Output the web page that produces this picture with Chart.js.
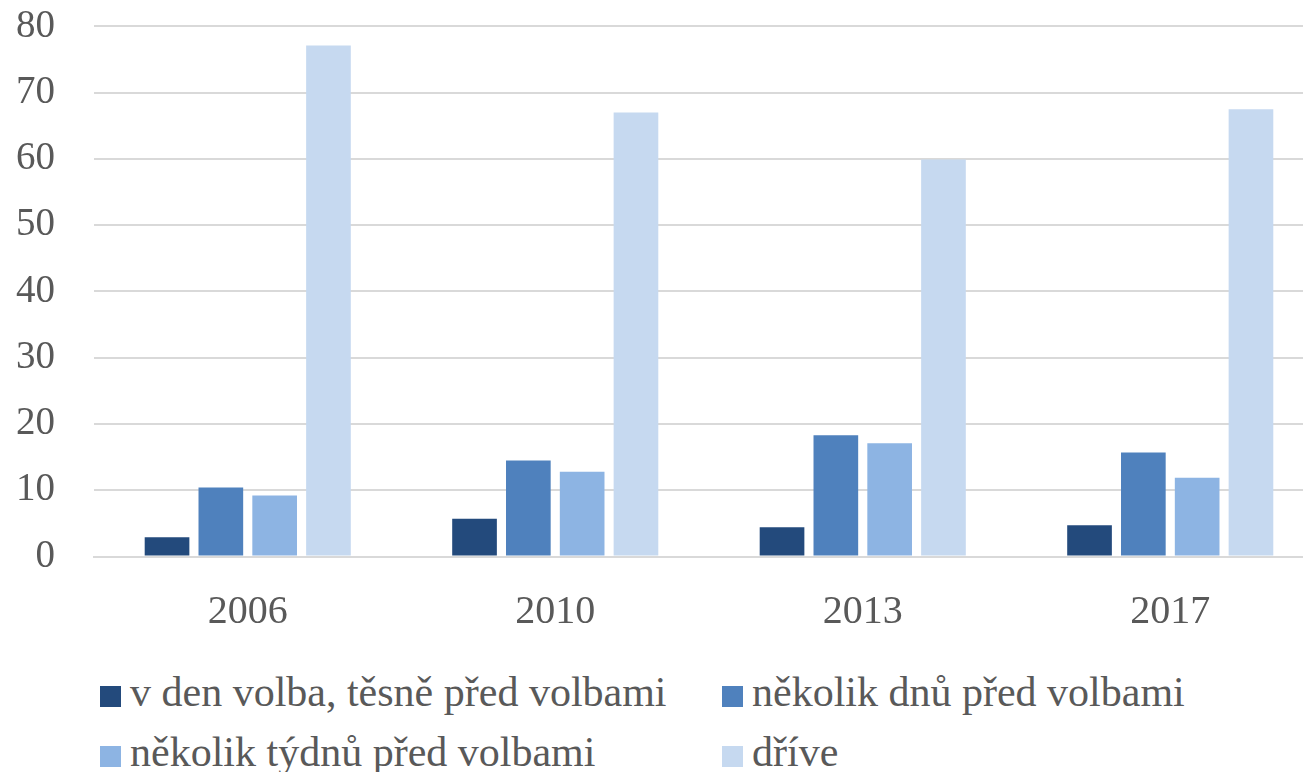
<!DOCTYPE html>
<html>
<head>
<meta charset="utf-8">
<script src="https://cdn.jsdelivr.net/npm/chart.js@4"></script>
<style>
  body { margin: 0; background: #fff; overflow: hidden; width: 1303px; height: 772px; position: relative; }
  #wrap { position: absolute; left: 0; top: -36px; width: 1324px; height: 686px; }
  .item { position: absolute; font-family: 'Liberation Serif', serif; font-size: 42px; color: #595959; line-height: 48px; white-space: nowrap; }
  .box { display: inline-block; width: 21px; height: 21px; margin-right: 9px; vertical-align: -1px; }
</style>
</head>
<body>
<div id="wrap"><canvas id="chart"></canvas></div>
<div id="legend"></div>
<script>
var years = ['2006', '2010', '2013', '2017'];
var seriesNames = ['v den volba, těsně před volbami', 'několik dnů před volbami', 'několik týdnů před volbami', 'dříve'];
var seriesColors = ['#234a7c', '#4f81bd', '#8db4e3', '#c6d9f0'];
var denVolby = [2.9, 5.7, 4.4, 4.7];
var dnyPred = [10.4, 14.5, 18.3, 15.7];
var tydnyPred = [9.2, 12.8, 17.1, 11.9];
var drive = [77.1, 67.0, 59.9, 67.5];
var yTicks = [0, 10, 20, 30, 40, 50, 60, 70, 80];

var values = [denVolby, dnyPred, tydnyPred, drive];

var datasets = seriesNames.map(function (name, i) {
    return {
        label: name,
        data: values[i],
        backgroundColor: seriesColors[i],
        borderWidth: 0,
        barPercentage: 0.83,
        categoryPercentage: 0.70
    };
});

var ctx = document.getElementById('chart');
new Chart(ctx, {
    type: 'bar',
    data: { labels: years, datasets: datasets },
    options: {
        responsive: true,
        maintainAspectRatio: false,
        animation: false,
        layout: { padding: { top: 0, left: 0, right: 0, bottom: 0 } },
        plugins: {
            legend: { display: false },
            tooltip: { enabled: false }
        },
        scales: {
            x: {
                grid: { display: false },
                border: { display: true, color: '#d9d9d9', width: 2 },
                ticks: {
                    color: '#595959',
                    padding: 24,
                    font: { family: "'Liberation Serif', serif", size: 40 }
                },
                afterFit: function (scale) { scale.height = 93.5; }
            },
            y: {
                min: 0,
                max: 80,
                afterBuildTicks: function (scale) {
                    scale.ticks = yTicks.map(function (v) { return { value: v }; });
                },
                grid: { color: '#d9d9d9', lineWidth: 2, drawTicks: false },
                border: { display: false },
                ticks: {
                    color: '#595959',
                    padding: 39,
                    font: { family: "'Liberation Serif', serif", size: 39 }
                },
                afterFit: function (scale) { scale.width = 94; }
            }
        }
    }
});

// legend in two aligned columns, like the original
var legendPos = [[100, 668], [722, 668], [100, 728], [722, 728]];
var legend = document.getElementById('legend');
seriesNames.forEach(function (name, i) {
    var el = document.createElement('div');
    el.className = 'item';
    el.style.left = legendPos[i][0] + 'px';
    el.style.top = legendPos[i][1] + 'px';
    el.innerHTML = '<span class="box" style="background:' + seriesColors[i] + '"></span>' + name;
    legend.appendChild(el);
});
</script>
</body>
</html>
